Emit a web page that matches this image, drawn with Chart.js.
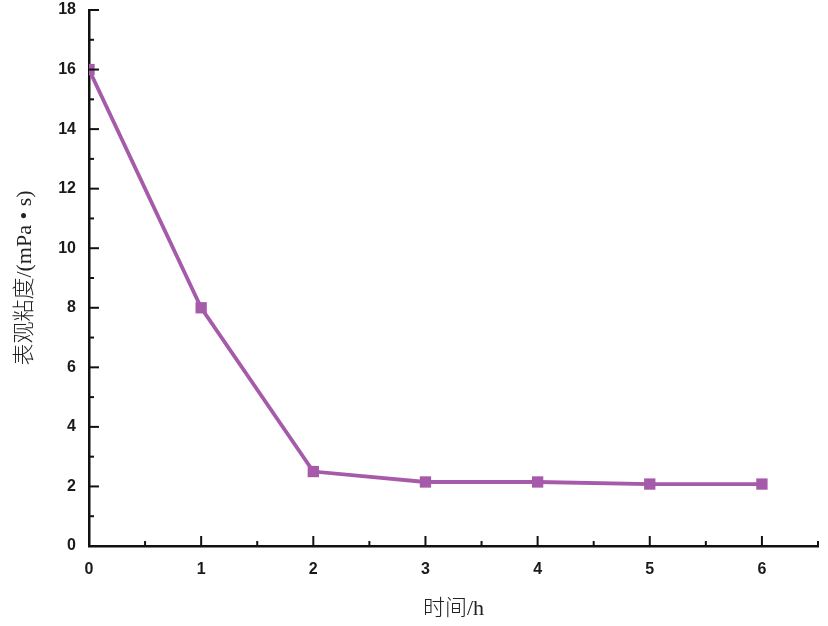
<!DOCTYPE html>
<html>
<head>
<meta charset="utf-8">
<script src="https://cdn.jsdelivr.net/npm/chart.js@4/dist/chart.umd.min.js"></script>
<style>
  html, body { margin: 0; padding: 0; background: #fff; }
  #wrap { width: 828px; height: 626px; }
</style>
</head>
<body>
<div id="wrap"><canvas id="c" width="828" height="626"></canvas></div>
<script>
// Viscosity vs. time data
const hours = [0, 1, 2, 3, 4, 5, 6];
const viscosity = [16, 8, 2.5, 2.15, 2.15, 2.08, 2.08];
const yTicks = [0, 2, 4, 6, 8, 10, 12, 14, 16, 18];
const xTicks = [0, 1, 2, 3, 4, 5, 6];

const PURPLE = "#a65aaa";
const AXIS = "#111";
const TITLE_FONT = { family: "'Liberation Serif', 'Noto Sans CJK SC'", size: 22, weight: 300 };

// inward tick marks (major + minor), placed through the scales
const innerTicks = {
  id: "innerTicks",
  afterDraw(chart) {
    const { ctx, scales: { x, y } } = chart;
    ctx.save();
    ctx.strokeStyle = AXIS;
    ctx.lineWidth = 2;
    const x0 = x.left, y0 = y.bottom;
    for (let v = 1; v <= 18; v += 1) {
      const py = y.getPixelForValue(v);
      const len = v % 2 === 0 ? 10 : 5;
      ctx.beginPath(); ctx.moveTo(x0, py); ctx.lineTo(x0 + len, py); ctx.stroke();
    }
    for (let v = 0.5; v <= 6.5; v += 0.5) {
      const px = x.getPixelForValue(v);
      const len = v % 1 === 0 ? 10 : 5;
      ctx.beginPath(); ctx.moveTo(px, y0); ctx.lineTo(px, y0 - len); ctx.stroke();
    }
    ctx.restore();
  }
};

new Chart(document.getElementById("c"), {
  type: "line",
  data: {
    labels: hours,
    datasets: [{
      data: hours.map((h, i) => ({ x: h, y: viscosity[i] })),
      borderColor: PURPLE,
      backgroundColor: PURPLE,
      borderWidth: 3.8,
      pointStyle: "rect",
      pointRadius: 8,
      pointBorderWidth: 0,
      tension: 0,
    }],
  },
  options: {
    responsive: false,
    animation: false,
    layout: { padding: { top: 10, right: 10, left: 0, bottom: 0 } },
    plugins: { legend: { display: false }, tooltip: { enabled: false } },
    scales: {
      x: {
        type: "linear",
        min: 0, max: 6.5,
        afterBuildTicks: s => { s.ticks = xTicks.map(v => ({ value: v })); },
        afterFit: s => { s.height = 80; s.paddingLeft = 0; s.paddingRight = 0; },
        grid: { display: false, drawTicks: false },
        border: { display: true, color: AXIS, width: 2.5 },
        ticks: { padding: 14, color: "#1a1a1a", font: { family: "Liberation Sans, Arial", size: 16, weight: "bold" } },
        title: {
          display: true, text: "时间/h", color: "#222",
          font: TITLE_FONT,
          padding: { top: 11 },
        },
      },
      y: {
        min: 0, max: 18,
        afterBuildTicks: s => { s.ticks = yTicks.map(v => ({ value: v })); },
        afterFit: s => { s.width = 89; s.paddingTop = 0; s.paddingBottom = 0; },
        grid: { display: false, drawTicks: false },
        border: { display: true, color: AXIS, width: 2.5 },
        ticks: { padding: 13, color: "#1a1a1a", font: { family: "Liberation Sans, Arial", size: 16, weight: "bold" } },
        title: {
          display: true, text: "表观粘度/(mPa • s)", color: "#222",
          font: TITLE_FONT,
          padding: { top: 12 },
        },
      },
    },
  },
  plugins: [innerTicks],
});
</script>
</body>
</html>
